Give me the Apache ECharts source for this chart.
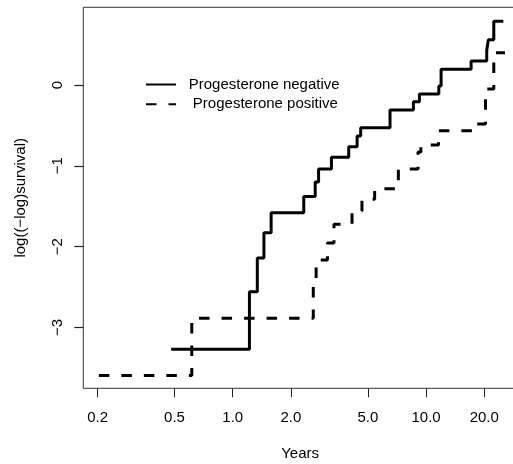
<!DOCTYPE html>
<html>
<head>
<meta charset="utf-8">
<script src="https://cdn.jsdelivr.net/npm/echarts@6/dist/echarts.min.js"></script>
<style>
html,body{margin:0;padding:0;background:#fff;}
#chart{width:513px;height:464px;}
</style>
</head>
<body>
<div id="chart"></div>
<script>
// Progesterone negative: time of each step (years) and level after it
const negTime  = [0.48, 1.22, 1.34, 1.45, 1.58, 2.33, 2.67, 2.78, 3.24, 3.98, 4.40, 4.59, 6.51, 8.60, 9.24, 11.64, 11.96, 17.1, 20.6, 21.0, 22.4, 25.1];
const negLevel = [-3.27, -2.56, -2.14, -1.83, -1.58, -1.38, -1.20, -1.04, -0.895, -0.763, -0.631, -0.528, -0.309, -0.206, -0.111, -0.012, 0.194, 0.297, 0.43, 0.56, 0.788, 0.788];
// Progesterone positive
const posTime  = [0.203, 0.614, 2.61, 2.70, 3.09, 3.34, 4.14, 4.66, 5.42, 7.19, 9.09, 9.40, 11.6, 18.3, 20.3, 22.4, 25.6];
const posLevel = [-3.597, -2.888, -2.45, -2.166, -1.955, -1.724, -1.559, -1.415, -1.283, -1.04, -0.83, -0.743, -0.565, -0.483, -0.05, 0.40, 0.40];

const seriesNames = ['Progesterone negative', 'Progesterone positive'];
const xTicks = [0.2, 0.5, 1, 2, 5, 10, 20];
const yTicks = [-3, -2, -1, 0];
const xTitle = 'Years';
const yTitle = 'log((\u2212log)survival)';

const FONT = 'Liberation Sans, Arial, Helvetica, sans-serif';
const chart = echarts.init(document.getElementById('chart'), null, {renderer: 'canvas'});

function zip(a, b) { return a.map((v, i) => [v, b[i]]); }

const option = {
  animation: false,
  backgroundColor: '#fff',
  grid: {
    left: 83.3, top: 7.3, bottom: 75.7, right: -3.9,
    outerBoundsMode: 'none', containLabel: false,
    show: true, borderColor: '#333', borderWidth: 1, backgroundColor: 'transparent'
  },
  legend: {
    orient: 'vertical',
    left: 145, top: 77, padding: 0,
    itemWidth: 30, itemHeight: 14, itemGap: 4.7,
    data: seriesNames,
    formatter: n => n === seriesNames[1] ? ' ' + n : n,
    itemStyle: { color: 'transparent', borderColor: 'transparent', borderWidth: 0, opacity: 0 },
    textStyle: { fontFamily: FONT, fontSize: 15, color: '#000', padding: [0, 0, 0, 7.7] }
  },
  xAxis: {
    type: 'log', logBase: 10, position: 'bottom',
    min: 0.1687, max: 29.5,
    name: xTitle, nameLocation: 'middle', nameGap: 58,
    nameTextStyle: { fontFamily: FONT, fontSize: 15, color: '#000' },
    axisLine: { show: false, onZero: false },
    axisTick: { show: true, length: 9, lineStyle: { color: '#222', width: 1 }, customValues: xTicks },
    axisLabel: { show: true, margin: 22, fontFamily: FONT, fontSize: 15, color: '#000',
      customValues: xTicks, formatter: v => Number(v).toFixed(1) },
    splitLine: { show: false },
    minorTick: { show: false }
  },
  yAxis: {
    type: 'value', position: 'left', offset: 0,
    min: -3.754, max: 0.962,
    name: yTitle, nameLocation: 'middle', nameGap: 55,
    nameTextStyle: { fontFamily: FONT, fontSize: 15, color: '#000' },
    axisLine: { show: false, onZero: false },
    axisTick: { show: true, inside: false, length: 9, lineStyle: { color: '#222', width: 1.2 }, customValues: yTicks },
    axisLabel: { show: true, rotate: 90, margin: 18, fontFamily: FONT, fontSize: 15, color: '#000',
      customValues: yTicks, formatter: v => (v < 0 ? '\u2212' + Math.abs(v) : String(v)) },
    splitLine: { show: false }
  },
  series: [
    {
      name: seriesNames[0], type: 'line', step: 'end',
      data: zip(negTime, negLevel),
      symbol: 'none', showSymbol: false,
      lineStyle: { color: '#000', width: 3, type: 'solid', cap: 'butt' },
      itemStyle: { color: '#000' }
    },
    {
      name: seriesNames[1], type: 'line', step: 'end',
      data: zip(posTime, posLevel),
      symbol: 'none', showSymbol: false,
      lineStyle: { color: '#000', width: 3, type: [10.5, 12], cap: 'butt' },
      itemStyle: { color: '#000' }
    }
  ]
};
chart.setOption(option);
</script>
</body>
</html>
